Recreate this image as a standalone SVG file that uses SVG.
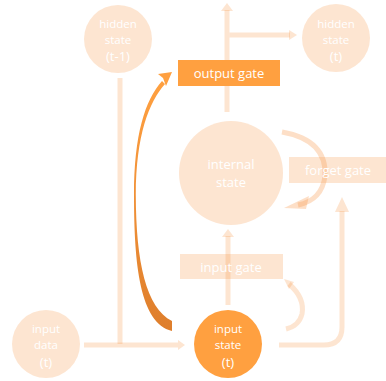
<svg xmlns="http://www.w3.org/2000/svg" width="386" height="381" viewBox="0 0 386 381">
<defs>
<style>
.pf{fill:#F79646;fill-opacity:0.25}
.ps{fill:none;stroke:#F79646;stroke-opacity:0.25;stroke-width:5}
.of{fill:#FFA040}
.t{font-family:"Open Sans","Liberation Sans",sans-serif;fill:#ffffff;text-anchor:middle}
.s{font-size:11.5px}
.b{font-size:13px}
</style>
<linearGradient id="og" x1="0" y1="1" x2="0" y2="0">
<stop offset="0" stop-color="#DE7E2C"/>
<stop offset="1" stop-color="#FFA040"/>
</linearGradient>
</defs>
<rect width="386" height="381" fill="#ffffff"/>
<g id="connectors">
<path class="ps" d="M120,78 V344"/>
<path class="ps" d="M84,345 H178"/>
<polygon class="pf" points="178,340 185,345 178,350"/>
<path class="ps" d="M228,305 V236"/>
<polygon class="pf" points="222,237 228,229 234,237"/>
<path class="ps" d="M227,112 V10"/>
<polygon class="pf" points="221,11 227,3 233,11"/>
<path class="ps" d="M229.5,35 H290"/>
<polygon class="pf" points="289,30 297,35 289,40"/>
<path class="ps" d="M279,345 H324 Q342,345 342,327 V211"/>
<polygon class="pf" points="335,212 342,197 349,212"/>
<path class="ps" d="M289,284 Q305,298 302,314 Q299,326 286,329" stroke-width="4"/>
<polygon class="pf" points="284,279 294,282 289,289"/>
<path class="ps" d="M282,132 Q327,140 325,176 Q322,200 298,205" style="stroke-opacity:0.3"/>
<polygon class="pf" points="284,208 309,196 306,209" style="fill-opacity:0.3"/>
<path fill="url(#og)" d="M172,331 C140,323 134,265 134,195 C134,135 145,100 162,81 L165,84 C149,102 136,135 135.8,195 C136,262 146,308 172,321 Z"/>
<polygon fill="#FFA040" points="172,72 158,74 163,78 166,86"/>
</g>
<g id="hidden-state-t-1">
<circle class="pf" cx="118" cy="39" r="34"/>
<text class="t s" x="118" y="28">hidden</text>
<text class="t s" x="118" y="44">state</text>
<text class="t b" x="118" y="61">(t-1)</text>
</g>
<g id="hidden-state-t">
<circle class="pf" cx="336" cy="38" r="34"/>
<text class="t s" x="336" y="28">hidden</text>
<text class="t s" x="336" y="44">state</text>
<text class="t b" x="336" y="61">(t)</text>
</g>
<g id="output-gate">
<rect class="of" x="178" y="60" width="102" height="26"/>
<text class="t b" x="229" y="78">output gate</text>
</g>
<g id="internal-state">
<circle class="pf" cx="231" cy="173" r="52"/>
<text class="t b" x="231" y="169">internal</text>
<text class="t b" x="231" y="187">state</text>
</g>
<g id="forget-gate">
<rect class="pf" x="289" y="157" width="97" height="26"/>
<text class="t b" x="338" y="175">forget gate</text>
</g>
<g id="input-gate">
<rect class="pf" x="180" y="254" width="103" height="25"/>
<text class="t b" x="231" y="272">input gate</text>
</g>
<g id="input-data-t">
<circle class="pf" cx="46" cy="344" r="34"/>
<text class="t s" x="46" y="333">input</text>
<text class="t s" x="46" y="349">data</text>
<text class="t b" x="46" y="367">(t)</text>
</g>
<g id="input-state-t">
<circle class="of" cx="228" cy="344" r="34"/>
<text class="t s" x="228" y="333">input</text>
<text class="t s" x="228" y="349">state</text>
<text class="t b" x="228" y="367">(t)</text>
</g>
</svg>
